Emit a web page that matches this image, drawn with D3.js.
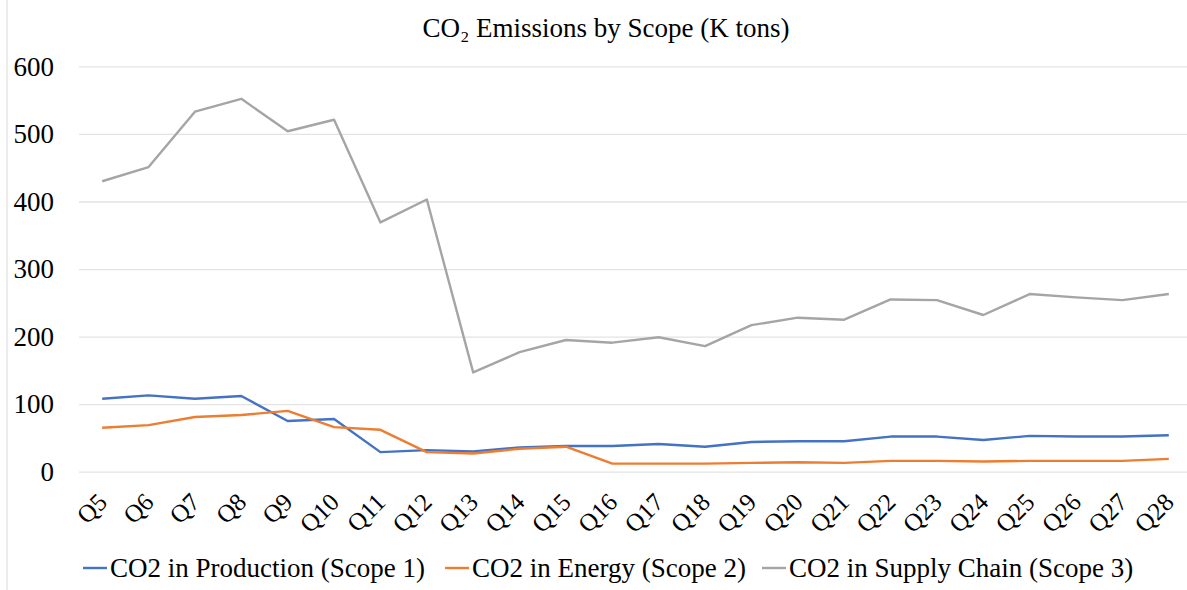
<!DOCTYPE html>
<html>
<head>
<meta charset="utf-8">
<script src="https://cdn.jsdelivr.net/npm/d3@7"></script>
<style>
  body { margin: 0; background: #fff; }
  svg { display: block; font-family: "Liberation Serif", "Times New Roman", serif; }
</style>
</head>
<body>
<div id="chart"></div>
<script>
var quarters = ['Q5','Q6','Q7','Q8','Q9','Q10','Q11','Q12','Q13','Q14','Q15','Q16',
  'Q17','Q18','Q19','Q20','Q21','Q22','Q23','Q24','Q25','Q26','Q27','Q28'];

var scope1 = [108,113,108,112,75,78,29,32,30,36,38,38,41,37,44,45,45,52,52,47,53,52,52,54];
var scope2 = [65,69,81,84,90,66,62,29,27,34,37,12,12,12,13,14,13,16,16,15,16,16,16,19];
var scope3 = [430,451,533,552,504,521,369,403,147,177,195,191,199,186,217,228,225,255,254,232,263,258,254,263];

var yTicks = [0,100,200,300,400,500,600];

var seriesNames = ['CO2 in Production (Scope 1)','CO2 in Energy (Scope 2)','CO2 in Supply Chain (Scope 3)'];
var colors = ['#4472C4','#ED7D31','#A5A5A5'];

var drawChart = function () {
  var width = 1187, height = 590;
  var plotLeft = 79, plotRight = 1192, plotTop = 66.4, plotBottom = 471.7;

  var svg = d3.select('#chart').append('svg')
    .attr('width', width)
    .attr('height', height);

  // chart border on the left
  svg.append('line')
    .attr('x1', 7).attr('x2', 7)
    .attr('y1', 0).attr('y2', height)
    .attr('stroke', '#d9d9d9').attr('stroke-width', 1);

  svg.append('text')
    .attr('x', 606).attr('y', 37)
    .attr('text-anchor', 'middle')
    .attr('font-size', 27)
    .attr('fill', '#000')
    .text('CO₂ Emissions by Scope (K tons)');

  var x = d3.scalePoint().domain(quarters).range([plotLeft, plotRight]).padding(0.5);
  var y = d3.scaleLinear().domain([0, 600]).range([plotBottom, plotTop]);

  // gridlines + y labels
  var yAxis = d3.axisLeft(y).tickValues(yTicks).tickSize(-(plotRight - plotLeft)).tickPadding(25);
  var gy = svg.append('g').attr('transform', 'translate(' + plotLeft + ',0)').call(yAxis);
  gy.select('.domain').remove();
  gy.selectAll('.tick line').attr('stroke', '#e3e3e3').attr('stroke-width', 1.3);
  gy.selectAll('.tick text')
    .attr('font-size', 27)
    .attr('font-family', '"Liberation Serif", serif')
    .attr('fill', '#000');

  // x labels
  var xAxis = d3.axisBottom(x).tickSize(0);
  var gx = svg.append('g').attr('transform', 'translate(0,' + plotBottom + ')').call(xAxis);
  gx.select('.domain').remove();
  gx.selectAll('.tick text')
    .attr('font-size', 25)
    .attr('font-family', '"Liberation Serif", serif')
    .attr('fill', '#000')
    .attr('text-anchor', 'end')
    .attr('y', 0)
    .attr('dy', 0)
    .attr('transform', 'translate(6,32) rotate(-45)');

  var line = d3.line()
    .x(function (d, i) { return x(quarters[i]); })
    .y(function (d) { return y(d); });

  [scope1, scope2, scope3].forEach(function (s, k) {
    svg.append('path')
      .datum(s)
      .attr('fill', 'none')
      .attr('stroke', colors[k])
      .attr('stroke-width', 2.4)
      .attr('stroke-linejoin', 'round')
      .attr('d', line);
  });

  // legend
  var legendX = [83, 445, 762];
  seriesNames.forEach(function (name, k) {
    var g = svg.append('g').attr('transform', 'translate(' + legendX[k] + ',568)');
    g.append('line')
      .attr('x1', 0).attr('x2', 24)
      .attr('y1', 0).attr('y2', 0)
      .attr('stroke', colors[k]).attr('stroke-width', 2.4);
    g.append('text')
      .attr('x', 27).attr('y', 9)
      .attr('font-size', 27)
      .attr('fill', '#000')
      .text(name);
  });
};

drawChart();
</script>
</body>
</html>
